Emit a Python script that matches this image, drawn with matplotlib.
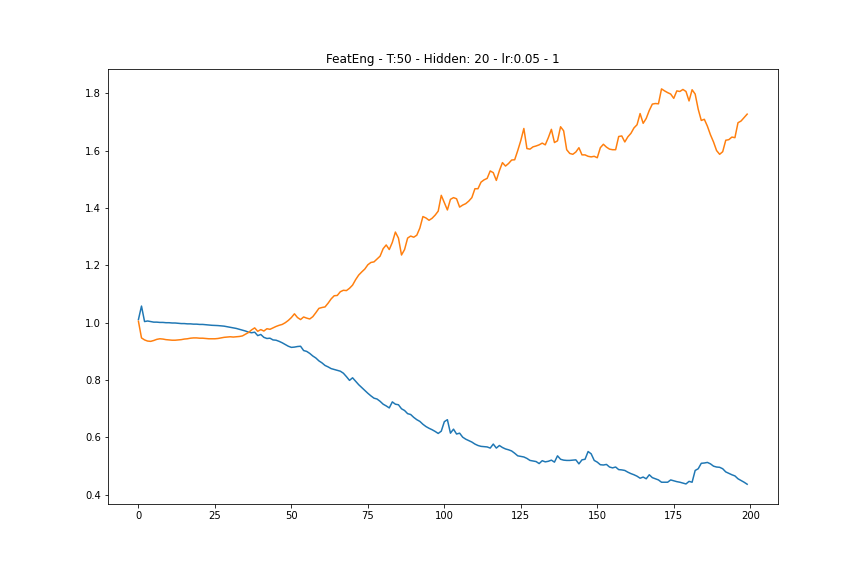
import numpy as np
import matplotlib
matplotlib.use('Agg')
import matplotlib.pyplot as plt

# values, one per epoch (0..199)
blue_vals = [
    1.011, 1.058, 1.004, 1.006, 1.004, 1.002, 1.002, 1.001, 1.001, 1.000,
    1.000, 0.999, 0.999, 0.998, 0.997, 0.997, 0.996, 0.996, 0.995, 0.995,
    0.994, 0.994, 0.993, 0.992, 0.991, 0.9905, 0.990, 0.989, 0.988, 0.986,
    0.984, 0.982, 0.980, 0.977, 0.974, 0.971, 0.967, 0.965, 0.967, 0.955,
    0.959, 0.949, 0.945, 0.946, 0.940, 0.939, 0.935, 0.930, 0.924, 0.918,
    0.914, 0.915, 0.917, 0.918, 0.903, 0.900, 0.893, 0.884, 0.877, 0.867,
    0.860, 0.851, 0.846, 0.840, 0.837, 0.834, 0.831, 0.824, 0.812, 0.799,
    0.808, 0.796, 0.784, 0.774, 0.764, 0.754, 0.745, 0.737, 0.734, 0.726,
    0.716, 0.710, 0.703, 0.724, 0.716, 0.714, 0.700, 0.694, 0.683, 0.680,
    0.670, 0.662, 0.656, 0.646, 0.638, 0.632, 0.627, 0.621, 0.614, 0.622,
    0.655, 0.662, 0.615, 0.629, 0.612, 0.615, 0.601, 0.594, 0.589, 0.584,
    0.577, 0.572, 0.569, 0.568, 0.567, 0.563, 0.577, 0.563, 0.572, 0.565,
    0.560, 0.557, 0.553, 0.545, 0.536, 0.534, 0.532, 0.527, 0.520, 0.518,
    0.516, 0.509, 0.519, 0.515, 0.517, 0.521, 0.514, 0.536, 0.524, 0.521,
    0.520, 0.520, 0.521, 0.522, 0.508, 0.522, 0.524, 0.551, 0.543, 0.520,
    0.514, 0.505, 0.504, 0.506, 0.497, 0.494, 0.497, 0.488, 0.487, 0.485,
    0.479, 0.474, 0.470, 0.465, 0.458, 0.462, 0.456, 0.470, 0.460, 0.456,
    0.452, 0.444, 0.444, 0.444, 0.452, 0.449, 0.446, 0.444, 0.441, 0.438,
    0.447, 0.444, 0.485, 0.491, 0.510, 0.511, 0.513, 0.508, 0.500, 0.497,
    0.496, 0.491, 0.480, 0.475, 0.470, 0.466, 0.456, 0.450, 0.444, 0.437,
]

orange_vals = [
    1.005, 0.947, 0.940, 0.936, 0.935, 0.938, 0.942, 0.944, 0.943, 0.941,
    0.940, 0.939, 0.939, 0.940, 0.941, 0.943, 0.944, 0.946, 0.947, 0.947,
    0.946, 0.946, 0.945, 0.944, 0.944, 0.944, 0.945, 0.947, 0.949, 0.950,
    0.951, 0.950, 0.951, 0.952, 0.954, 0.960, 0.966, 0.975, 0.982, 0.970,
    0.976, 0.971, 0.979, 0.977, 0.982, 0.987, 0.991, 0.994, 1.000, 1.008,
    1.018, 1.031, 1.018, 1.011, 1.020, 1.016, 1.013, 1.021, 1.035, 1.050,
    1.053, 1.055, 1.068, 1.083, 1.094, 1.095, 1.108, 1.113, 1.112, 1.120,
    1.131, 1.150, 1.166, 1.177, 1.187, 1.202, 1.210, 1.212, 1.222, 1.232,
    1.258, 1.271, 1.255, 1.280, 1.316, 1.295, 1.236, 1.255, 1.295, 1.302,
    1.298, 1.305, 1.330, 1.370, 1.365, 1.357, 1.364, 1.375, 1.389, 1.444,
    1.418, 1.393, 1.430, 1.436, 1.432, 1.403, 1.410, 1.415, 1.424, 1.436,
    1.467, 1.467, 1.490, 1.498, 1.503, 1.529, 1.523, 1.496, 1.530, 1.558,
    1.546, 1.555, 1.567, 1.568, 1.600, 1.635, 1.677, 1.607, 1.605, 1.613,
    1.616, 1.620, 1.626, 1.620, 1.645, 1.674, 1.628, 1.634, 1.683, 1.669,
    1.603, 1.590, 1.587, 1.595, 1.610, 1.585, 1.585, 1.580, 1.578, 1.580,
    1.575, 1.610, 1.622, 1.612, 1.605, 1.603, 1.603, 1.649, 1.651, 1.630,
    1.648, 1.660, 1.679, 1.690, 1.729, 1.695, 1.712, 1.740, 1.762, 1.764,
    1.763, 1.815, 1.808, 1.802, 1.797, 1.782, 1.808, 1.806, 1.813, 1.806,
    1.773, 1.812, 1.797, 1.744, 1.705, 1.709, 1.685, 1.655, 1.630, 1.600,
    1.587, 1.596, 1.636, 1.638, 1.647, 1.645, 1.697, 1.703, 1.715, 1.727,
]

title = 'FeatEng - T:50 - Hidden: 20 - lr:0.05 - 1'

epochs = np.arange(len(blue_vals))

fig, ax = plt.subplots(figsize=(12, 8), dpi=72)
fig.subplots_adjust(left=0.125, right=0.9, bottom=0.125, top=0.88)

ax.plot(epochs, blue_vals)
ax.plot(epochs, orange_vals)
ax.set_title(title)

fig.savefig('out.png', dpi=72)
